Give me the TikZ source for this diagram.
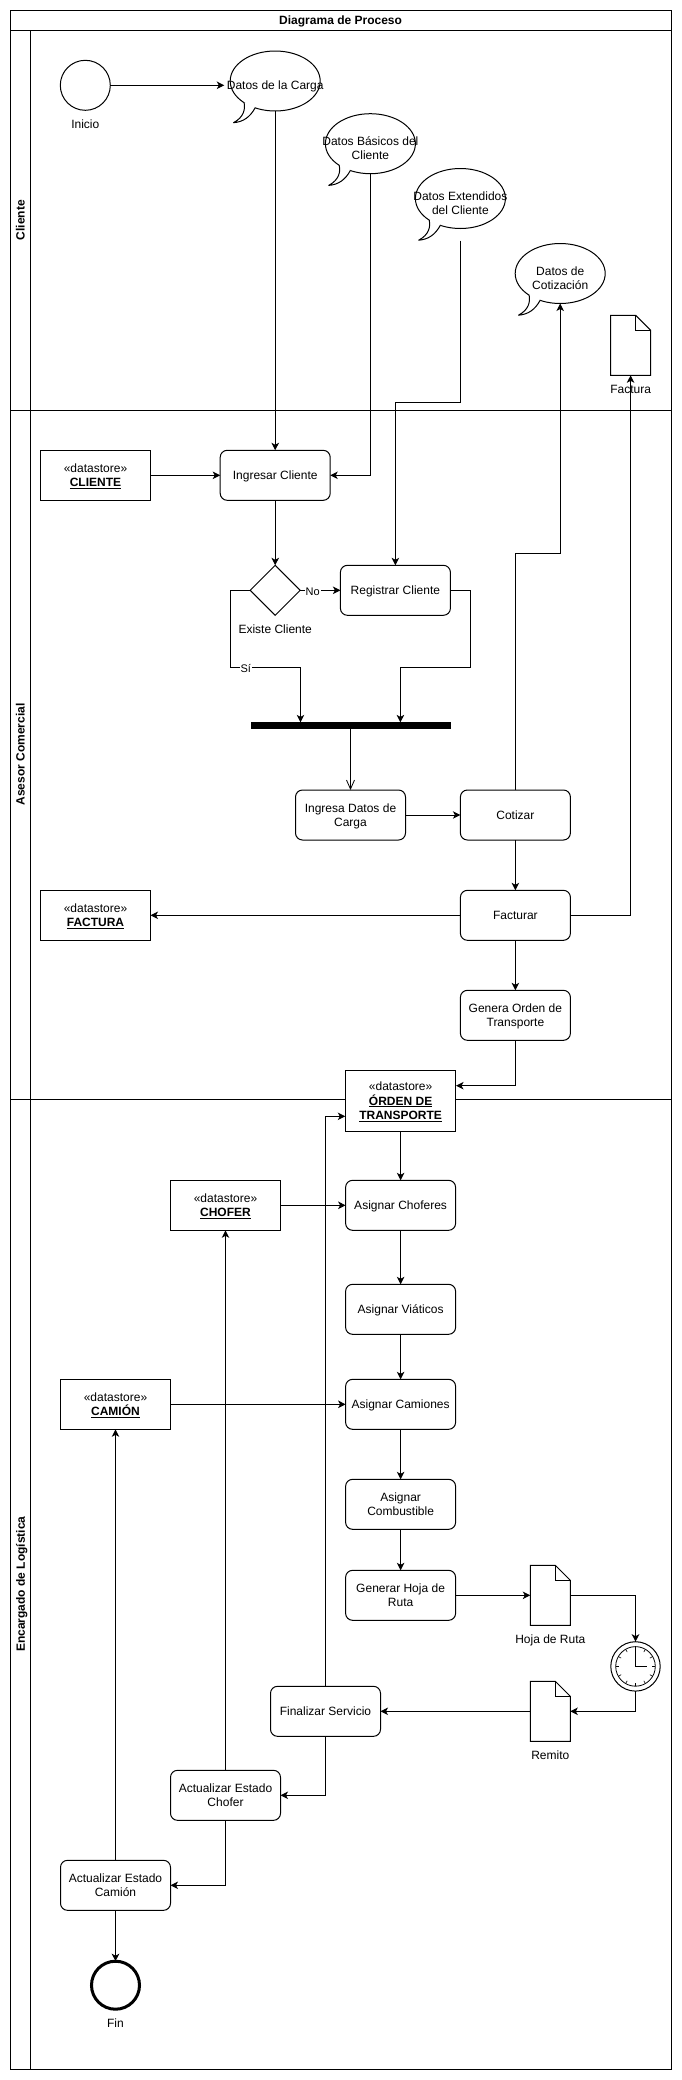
\documentclass[tikz,border=0pt]{standalone}
\usepackage{fontspec}
\setmainfont{Liberation Sans}
\usetikzlibrary{arrows.meta,shapes.geometric}
\tikzset{
  base/.style={font=\fontsize{12}{14.6}\selectfont,align=center,inner sep=0pt,outer sep=0pt,text depth=0pt},
  activity/.style={base,draw,fill=white,rounded corners=7pt,minimum width=110pt,minimum height=50pt},
  datastore/.style={base,draw,fill=white,minimum width=110pt,minimum height=50pt},
  caption/.style={base},
  edgelabel/.style={base,font=\fontsize{11}{13}\selectfont,fill=white,inner xsep=1pt,inner ysep=0pt},
  lanetitle/.style={base,font=\fontsize{12}{14}\selectfont\bfseries,rotate=90},
  bubble/.style={base,ellipse,draw,minimum width=90pt,minimum height=60pt},
  flow/.style={-{Stealth[length=7.5pt,width=7.5pt,inset=2pt]}},
  openflow/.style={-{Straight Barb[length=9pt,width=8pt]},line width=0.8pt}
}
\newcommand{\store}[2]{«#1»\\\textbf{#2}}
% bubble with a tail, text sits a bit below the middle
\newcommand{\callout}[4]{
  \node[bubble,fill=white] (#1) at (#2,#3) {};
  \begin{scope}[shift={(#2,#3)}]
    \fill[white] (-31,21.7) .. controls (-30,28) and (-31,36) .. (-41.7,41.7)
      .. controls (-32,41) and (-25,36) .. (-20,26.7) -- (-24,20) -- cycle;
    \draw[line join=round] (-31,21.7) .. controls (-30,28) and (-31,36) .. (-41.7,41.7)
      .. controls (-32,41) and (-25,36) .. (-20,26.7);
  \end{scope}
  \node[caption] (#1 text) at (#2,#3+4.5) {#4};
}
% sheet with folded corner
\newcommand{\sheet}[3]{
  \node[base,minimum width=40pt,minimum height=60pt] (#1) at (#2,#3) {};
  \begin{scope}[shift={(#2,#3)}]
    \draw[fill=white] (-20,-30) -- (5,-30) -- (20,-15) -- (20,30) -- (-20,30) -- cycle;
    \draw (5,-30) -- (5,-15) -- (20,-15);
  \end{scope}
}
\begin{document}
\begin{tikzpicture}[x=1pt,y=-1pt,line width=1pt]
\useasboundingbox (0,0) rectangle (681,2080);
\def\frameL{10.3}  % outer frame
\def\frameR{671}
\def\headR{30.4}   % right side of the lane heads
\def\laneA{30.3}
\def\laneB{410.3}
\def\laneC{1099}
\def\laneD{2069.3}
\draw (\frameL,10) rectangle (\frameR,\laneD);
\draw (\frameL,\laneA) -- (\frameR,\laneA);
\draw (\frameL,\laneB) -- (\frameR,\laneB);
\draw (\frameL,\laneC) -- (\frameR,\laneC);
\draw (\headR,\laneA) -- (\headR,\laneD);
\node[base,font=\fontsize{12}{14}\selectfont\bfseries] (titulo) at (340.6,20.2) {Diagrama de Proceso};
\node[lanetitle] (laneCliente) at (20.4,220.3) {Cliente};
\node[lanetitle] (laneAsesor) at (20.4,754.6) {Asesor Comercial};
\node[lanetitle] (laneLogistica) at (20.4,1584) {Encargado de Logística};

% Cliente
\node[base,circle,draw,minimum size=50pt] (inicio) at (85.3,85.3) {};
\node[caption] (inicioText) at (85.3,123.7) {Inicio};
\callout{datosCarga}{275.2}{81}{Datos de la Carga}
\callout{datosBasicos}{370.4}{143.7}{Datos Básicos del\\Cliente}
\callout{datosExt}{460.4}{198.5}{Datos Extendidos\\del Cliente}
\callout{datosCot}{560.2}{273.5}{Datos de\\Cotización}
\sheet{docFactura}{630.6}{345.3}
\node[caption] (facturaText) at (630.6,389) {Factura};

% Asesor Comercial
\node[datastore] (cliente) at (95.5,475.3) {\store{datastore}{\underline{CLIENTE}}};
\node[activity] (ingresar) at (275.2,475.3) {Ingresar Cliente};
\node[base,diamond,aspect=1,draw,fill=white,minimum width=50pt,minimum height=50pt] (existe) at (275.2,590.3) {};
\node[caption] (existeText) at (275.2,628.7) {Existe Cliente};
\node[activity] (registrar) at (395.4,590.3) {Registrar Cliente};
\node[base,fill=black,minimum width=200pt,minimum height=6.5pt] (barra) at (350.5,725.6) {};
\node[activity] (ingresaDatos) at (350.5,815) {Ingresa Datos de\\Carga};
\node[activity] (cotizar) at (515.4,815) {Cotizar};
\node[activity] (facturar) at (515.4,915.3) {Facturar};
\node[datastore] (factura) at (95.5,915.3) {\store{datastore}{\underline{FACTURA}}};
\node[activity] (genera) at (515.4,1015.3) {Genera Orden de\\Transporte};

% Encargado de Logistica
\node[datastore,minimum height=61pt] (orden) at (400.6,1100.8) {«datastore»\\\textbf{\underline{ÓRDEN DE}}\\\textbf{\underline{TRANSPORTE}}};
\node[activity] (choferes) at (400.6,1205.3) {Asignar Choferes};
\node[datastore] (chofer) at (225.5,1205.3) {\store{datastore}{\underline{CHOFER}}};
\node[activity] (viaticos) at (400.6,1309.3) {Asignar Viáticos};
\node[activity] (camiones) at (400.6,1404.3) {Asignar Camiones};
\node[datastore] (camion) at (115.5,1404.3) {\store{datastore}{\underline{CAMIÓN}}};
\node[activity] (combustible) at (400.6,1504.3) {Asignar\\Combustible};
\node[activity] (hoja) at (400.6,1595.3) {Generar Hoja de\\Ruta};
\sheet{docHoja}{550.3}{1595.3}
\node[caption] (hojaText) at (550.3,1638.7) {Hoja de Ruta};
\node[base,circle,draw,fill=white,minimum size=49.4pt] (timer) at (635.5,1666.4) {};
\node[base,circle,draw,line width=0.8pt,minimum size=39.6pt] (timerIn) at (635.5,1666.4) {};
\foreach \a in {0,30,...,330}
  \draw[line width=0.6pt] (timer.center) ++(\a:19.6) -- ++(\a:-3);
\draw[line width=0.8pt] (635.5,1646.8) -- (timer.center) -- (646.8,1666.4);
\sheet{docRemito}{550.3}{1711.3}
\node[caption] (remitoText) at (550.3,1755) {Remito};
\node[activity] (finalizar) at (325.5,1711.3) {Finalizar Servicio};
\node[activity] (estadoChofer) at (225.5,1795.3) {Actualizar Estado\\Chofer};
\node[activity] (estadoCamion) at (115.5,1885.3) {Actualizar Estado\\Camión};
\node[base,circle,draw,line width=3pt,minimum size=48pt] (fin) at (115.5,1985.2) {};
\node[caption] (finText) at (115.5,2023.3) {Fin};

% free ends and bends of the connectors
\coordinate (cargaIn) at (224.3,85.3);
\coordinate (extSal) at (460.4,240.7);
\coordinate (extCodo) at (460.4,402.7);
\coordinate (siCodo) at (230.6,667.7);
\coordinate (regCodo) at (470.3,667.7);
\coordinate (barraA) at (300.5,722.4);
\coordinate (barraB) at (400.4,722.4);
\coordinate (cotCodo) at (515.4,553);
\coordinate (ordenIn) at (456,1085.7);
\coordinate (ordenVuelta) at (345.3,1116.3);

\draw[flow] (inicio) -- (cargaIn);
\draw[flow] (datosCarga) -- (ingresar);
\draw[flow] (datosBasicos.south) |- (ingresar.east);
\draw[flow] (extSal) -- (extCodo) -| (registrar.north);
\draw[flow] (cliente) -- (ingresar);
\draw[flow] (ingresar) -- (existe);
\draw[flow] (existe.east) -- (registrar.west);
\draw[flow] (existe.west) -| (siCodo) -| (barraA);
\draw[flow] (registrar.east) -| (regCodo) -| (barraB);
\draw[openflow] (barra.south) -- (ingresaDatos.north);
\draw[flow] (ingresaDatos) -- (cotizar);
\draw[flow] (cotizar.north) -- (cotCodo) -| (datosCot.south);
\draw[flow] (cotizar) -- (facturar);
\draw[flow] (facturar) -- (factura);
\draw[flow] (facturar.east) -| (docFactura.south);
\draw[flow] (facturar) -- (genera);
\draw[flow] (genera.south) |- (ordenIn);
\draw[flow] (orden) -- (choferes);
\draw[flow] (chofer) -- (choferes);
\draw[flow] (choferes) -- (viaticos);
\draw[flow] (viaticos) -- (camiones);
\draw[flow] (camion) -- (camiones);
\draw[flow] (camiones) -- (combustible);
\draw[flow] (combustible) -- (hoja);
\draw[flow] (hoja) -- (docHoja);
\draw[flow] (docHoja.east) -| (timer.north);
\draw[flow] (timer.south) |- (docRemito.east);
\draw[flow] (docRemito) -- (finalizar);
\draw[flow] (finalizar.north) |- (ordenVuelta);
\draw[flow] (finalizar.south) |- (estadoChofer.east);
\draw[flow] (estadoChofer) -- (chofer);
\draw[flow] (estadoChofer.south) |- (estadoCamion.east);
\draw[flow] (estadoCamion) -- (camion);
\draw[flow] (estadoCamion) -- (fin);
\node[edgelabel] (noLabel) at (312.7,591.5) {No};
\node[edgelabel] (siLabel) at (245.8,668.3) {Sí};
\end{tikzpicture}
\end{document}
